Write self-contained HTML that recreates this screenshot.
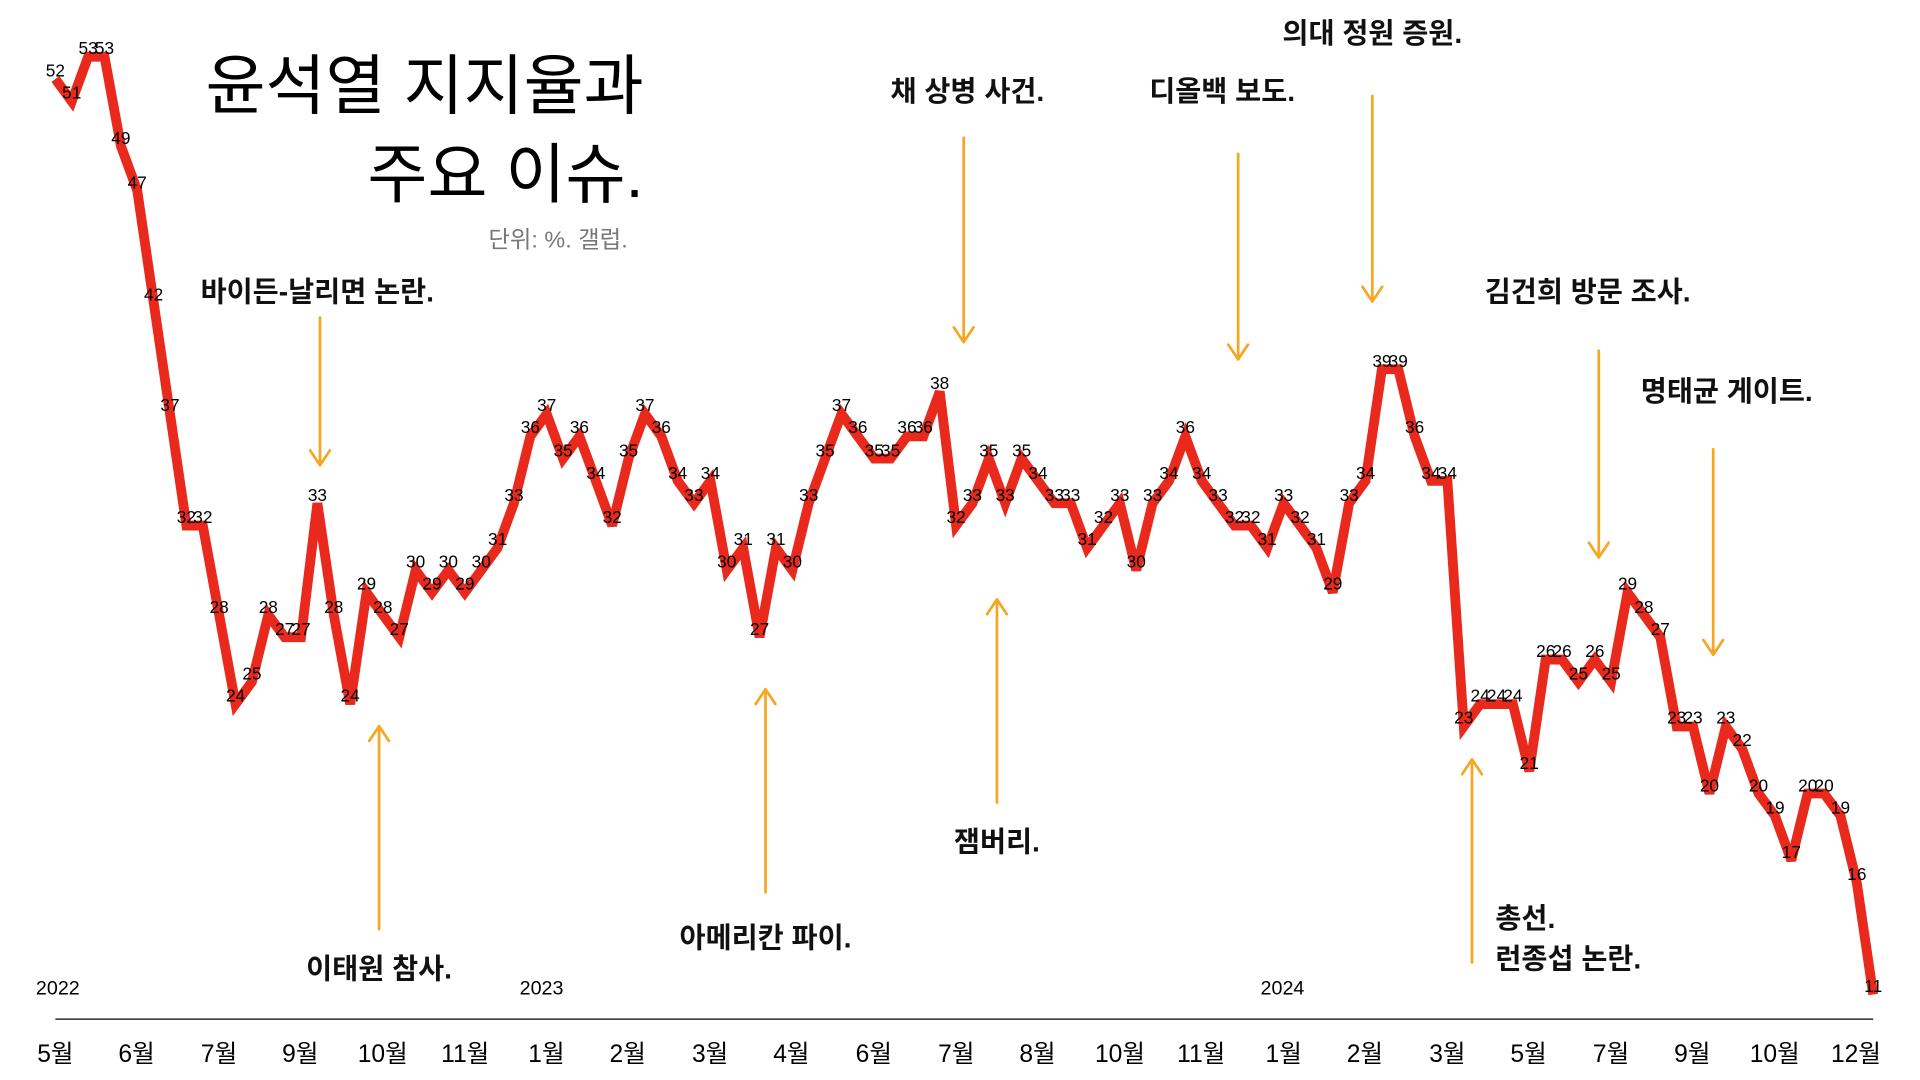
<!DOCTYPE html>
<html><head><meta charset="utf-8"><style>
html,body{margin:0;padding:0;background:#fff;width:1920px;height:1080px;overflow:hidden}
svg{display:block}
text{font-family:"Liberation Sans","Noto Sans CJK KR",sans-serif}
.lbl text{font-size:14px;fill:#000;text-anchor:middle}
.ann{font-size:23px;font-weight:bold;fill:#111}
.mo{font-size:20px;fill:#000;text-anchor:middle}
.yr{font-size:16px;fill:#000;text-anchor:middle}
.ar{stroke:#f5a623;stroke-width:2.2;fill:none;stroke-linecap:round;stroke-linejoin:round}
</style></head><body>
<svg width="1920" height="1080" viewBox="0 0 1560 877.5" xmlns="http://www.w3.org/2000/svg">
<text x="523" y="88" font-size="53" text-anchor="end" fill="#000">윤석열 지지율과</text>
<text x="523" y="160" font-size="53" text-anchor="end" fill="#000">주요 이슈.</text>
<text x="510" y="201" font-size="19" text-anchor="end" fill="#777">단위: %. 갤럽.</text>

<text class="ann" x="163" y="245">바이든-날리면 논란.</text>
<text class="ann" x="308" y="795" text-anchor="middle">이태원 참사.</text>
<text class="ann" x="622" y="770" text-anchor="middle">아메리칸 파이.</text>
<text class="ann" x="786" y="82" text-anchor="middle">채 상병 사건.</text>
<text class="ann" x="810" y="692" text-anchor="middle">잼버리.</text>
<text class="ann" x="993" y="82" text-anchor="middle">디올백 보도.</text>
<text class="ann" x="1115" y="35" text-anchor="middle">의대 정원 증원.</text>
<text class="ann" x="1290" y="245" text-anchor="middle">김건희 방문 조사.</text>
<text class="ann" x="1403" y="326" text-anchor="middle">명태균 게이트.</text>
<text class="ann" x="1215" y="754">총선.</text>
<text class="ann" x="1215" y="787">런종섭 논란.</text>

<g class="ar">
<path d="M260 258V378M252 366L260 378L268 366"/>
<path d="M308 755V590M300 602L308 590L316 602"/>
<path d="M622 725V560M614 572L622 560L630 572"/>
<path d="M783 112V278M775 266L783 278L791 266"/>
<path d="M810 652V487M802 499L810 487L818 499"/>
<path d="M1006 125V292M998 280L1006 292L1014 280"/>
<path d="M1115 78V245M1107 233L1115 245L1123 233"/>
<path d="M1299 285V453M1291 441L1299 453L1307 441"/>
<path d="M1392 365V532M1384 520L1392 532L1400 520"/>
<path d="M1196 782V617M1188 629L1196 617L1204 629"/>
</g>

<line x1="45" y1="828" x2="1522" y2="828" stroke="#000" stroke-width="1"/>
<g class="yr"><text x="47" y="808">2022</text><text x="440" y="808">2023</text><text x="1042" y="808">2024</text></g>
<g class="mo">
<text x="45" y="863">5월</text><text x="111" y="863">6월</text><text x="178" y="863">7월</text><text x="244" y="863">9월</text><text x="311" y="863">10월</text><text x="378" y="863">11월</text><text x="444" y="863">1월</text><text x="510" y="863">2월</text><text x="577" y="863">3월</text><text x="643" y="863">4월</text><text x="710" y="863">6월</text><text x="777" y="863">7월</text><text x="843" y="863">8월</text><text x="910" y="863">10월</text><text x="976" y="863">11월</text><text x="1043" y="863">1월</text><text x="1109" y="863">2월</text><text x="1176" y="863">3월</text><text x="1242" y="863">5월</text><text x="1309" y="863">7월</text><text x="1375" y="863">9월</text><text x="1442" y="863">10월</text><text x="1508" y="863">12월</text>
</g>

<g transform="translate(45,0) scale(13.306,1)">
<polyline fill="none" stroke="#e8291c" stroke-width="9.8" vector-effect="non-scaling-stroke" stroke-linejoin="miter" stroke-miterlimit="3" points="0,64.2 1,82.4 2,46.1 3,46.1 4,118.6 5,154.9 6,245.6 7,336.3 8,427 9,427 10,499.6 11,572.1 12,554 13,499.6 14,517.7 15,517.7 16,408.9 17,499.6 18,572.1 19,481.4 20,499.6 21,517.7 22,463.3 23,481.4 24,463.3 25,481.4 26,463.3 27,445.2 28,408.9 29,354.5 30,336.3 31,372.6 32,354.5 33,390.7 34,427 35,372.6 36,336.3 37,354.5 38,390.7 39,408.9 40,390.7 41,463.3 42,445.2 43,517.7 44,445.2 45,463.3 46,408.9 47,372.6 48,336.3 49,354.5 50,372.6 51,372.6 52,354.5 53,354.5 54,318.2 55,427 56,408.9 57,372.6 58,408.9 59,372.6 60,390.7 61,408.9 62,408.9 63,445.2 64,427 65,408.9 66,463.3 67,408.9 68,390.7 69,354.5 70,390.7 71,408.9 72,427 73,427 74,445.2 75,408.9 76,427 77,445.2 78,481.4 79,408.9 80,390.7 81,300 82,300 83,354.5 84,390.7 85,390.7 86,590.3 87,572.1 88,572.1 89,572.1 90,626.6 91,535.9 92,535.9 93,554 94,535.9 95,554 96,481.4 97,499.6 98,517.7 99,590.3 100,590.3 101,644.7 102,590.3 103,608.4 104,644.7 105,662.8 106,699.1 107,644.7 108,644.7 109,662.8 110,717.3 111,808"/>
</g>

<g class="lbl">
<text x="45" y="62">52</text><text x="58.3" y="80">51</text><text x="71.6" y="44">53</text><text x="84.9" y="44">53</text><text x="98.2" y="117">49</text><text x="111.5" y="153">47</text><text x="124.8" y="244">42</text><text x="138.1" y="334">37</text><text x="151.4" y="425">32</text><text x="164.8" y="425">32</text>
<text x="178.1" y="498">28</text><text x="191.4" y="570">24</text><text x="204.7" y="552">25</text><text x="218" y="498">28</text><text x="231.3" y="516">27</text><text x="244.6" y="516">27</text><text x="257.9" y="407">33</text><text x="271.2" y="498">28</text><text x="284.5" y="570">24</text><text x="297.8" y="479">29</text>
<text x="311.1" y="498">28</text><text x="324.4" y="516">27</text><text x="337.7" y="461">30</text><text x="351" y="479">29</text><text x="364.3" y="461">30</text><text x="377.7" y="479">29</text><text x="391" y="461">30</text><text x="404.3" y="443">31</text><text x="417.6" y="407">33</text><text x="430.9" y="352">36</text>
<text x="444.2" y="334">37</text><text x="457.5" y="371">35</text><text x="470.8" y="352">36</text><text x="484.1" y="389">34</text><text x="497.4" y="425">32</text><text x="510.7" y="371">35</text><text x="524" y="334">37</text><text x="537.3" y="352">36</text><text x="550.6" y="389">34</text><text x="563.9" y="407">33</text>
<text x="577.2" y="389">34</text><text x="590.5" y="461">30</text><text x="603.9" y="443">31</text><text x="617.2" y="516">27</text><text x="630.5" y="443">31</text><text x="643.8" y="461">30</text><text x="657.1" y="407">33</text><text x="670.4" y="371">35</text><text x="683.7" y="334">37</text><text x="697" y="352">36</text>
<text x="710.3" y="371">35</text><text x="723.6" y="371">35</text><text x="736.9" y="352">36</text><text x="750.2" y="352">36</text><text x="763.5" y="316">38</text><text x="776.8" y="425">32</text><text x="790.1" y="407">33</text><text x="803.4" y="371">35</text><text x="816.7" y="407">33</text><text x="830.1" y="371">35</text>
<text x="843.4" y="389">34</text><text x="856.7" y="407">33</text><text x="870" y="407">33</text><text x="883.3" y="443">31</text><text x="896.6" y="425">32</text><text x="909.9" y="407">33</text><text x="923.2" y="461">30</text><text x="936.5" y="407">33</text><text x="949.8" y="389">34</text><text x="963.1" y="352">36</text>
<text x="976.4" y="389">34</text><text x="989.7" y="407">33</text><text x="1003" y="425">32</text><text x="1016.3" y="425">32</text><text x="1029.6" y="443">31</text><text x="1043" y="407">33</text><text x="1056.3" y="425">32</text><text x="1069.6" y="443">31</text><text x="1082.9" y="479">29</text><text x="1096.2" y="407">33</text>
<text x="1109.5" y="389">34</text><text x="1122.8" y="298">39</text><text x="1136.1" y="298">39</text><text x="1149.4" y="352">36</text><text x="1162.7" y="389">34</text><text x="1176" y="389">34</text><text x="1189.3" y="588">23</text><text x="1202.6" y="570">24</text><text x="1215.9" y="570">24</text><text x="1229.2" y="570">24</text>
<text x="1242.5" y="625">21</text><text x="1255.9" y="534">26</text><text x="1269.2" y="534">26</text><text x="1282.5" y="552">25</text><text x="1295.8" y="534">26</text><text x="1309.1" y="552">25</text><text x="1322.4" y="479">29</text><text x="1335.7" y="498">28</text><text x="1349" y="516">27</text><text x="1362.3" y="588">23</text>
<text x="1375.6" y="588">23</text><text x="1388.9" y="643">20</text><text x="1402.2" y="588">23</text><text x="1415.5" y="606">22</text><text x="1428.8" y="643">20</text><text x="1442.2" y="661">19</text><text x="1455.5" y="697">17</text><text x="1468.8" y="643">20</text><text x="1482.1" y="643">20</text><text x="1495.4" y="661">19</text>
<text x="1508.7" y="715">16</text><text x="1522" y="806">11</text>
</g>
</svg>
</body></html>
